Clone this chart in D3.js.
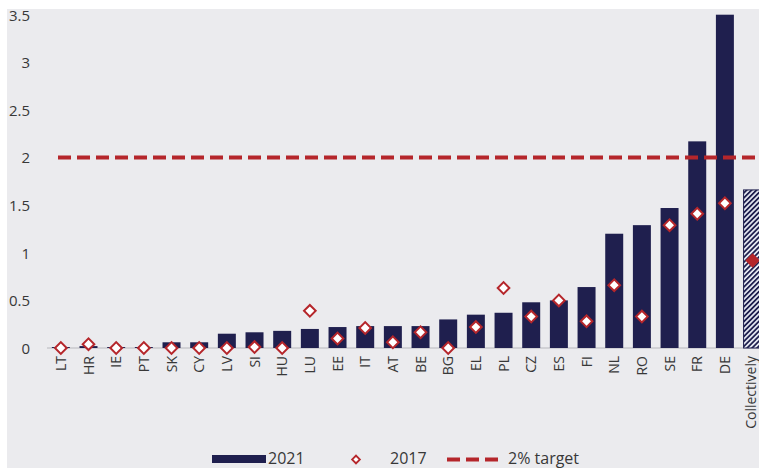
<!DOCTYPE html>
<html><head><meta charset="utf-8">
<script src="https://cdn.jsdelivr.net/npm/d3@7"></script>
<style>html,body{margin:0;padding:0;background:#fff;overflow:hidden}</style>
</head><body>
<svg id="c" width="759" height="468"></svg>
<script>
const categories = ["LT","HR","IE","PT","SK","CY","LV","SI","HU","LU","EE","IT","AT","BE","BG","EL","PL","CZ","ES","FI","NL","RO","SE","FR","DE","Collectively"];
const values2021 = [0.01,0.02,0.01,0.01,0.06,0.06,0.15,0.165,0.18,0.2,0.22,0.23,0.23,0.23,0.3,0.35,0.37,0.48,0.5,0.64,1.2,1.29,1.47,2.17,3.5,1.66];
const values2017 = [0,0.04,0,0,0,0,0,0.01,0,0.39,0.1,0.21,0.06,0.165,0,0.22,0.63,0.33,0.5,0.28,0.66,0.33,1.29,1.41,1.52,0.92];
const target = 2;
const yTicks = [0,0.5,1,1.5,2,2.5,3,3.5];
const legendLabels = ["2021","2017","2% target"];

const navy = "#1f1f4e", red = "#b5262b", font = "'Open Sans', 'Noto Sans', sans-serif";
const svg = d3.select("#c");
svg.append("rect").attr("x",7).attr("y",9).attr("width",752).attr("height",459).attr("fill","#ebebee");

const defs = svg.append("defs");
const pat = defs.append("pattern").attr("id","hatch").attr("patternUnits","userSpaceOnUse")
  .attr("width",3.5).attr("height",3.5).attr("patternTransform","rotate(45)");
pat.append("rect").attr("width",3.5).attr("height",3.5).attr("fill","#e8ebf4");
pat.append("rect").attr("width",1.8).attr("height",3.5).attr("fill",navy);

const x = d3.scaleBand().domain(categories).range([47, 766.4]).paddingInner(0.35).paddingOuter(0.175);
const y = d3.scaleLinear().domain([0,3.5]).range([348, 14.7]);

// y axis labels
const yAxis = d3.axisLeft(y).tickValues(yTicks).tickSize(0).tickPadding(0).tickFormat(d=>String(d));
const ya = svg.append("g").attr("transform","translate(30,0)").call(yAxis);
ya.select(".domain").remove();
ya.selectAll("text").attr("font-family",font).attr("font-size",15).attr("fill","#383838").attr("dy","0.36em");

// baseline
svg.append("line").attr("x1",47).attr("x2",759).attr("y1",y(0)).attr("y2",y(0)).attr("stroke","#b8b8bc").attr("stroke-width",1.2);

// bars
svg.append("g").selectAll("rect").data(categories).join("rect")
  .attr("x",d=>x(d)).attr("width",x.bandwidth())
  .attr("y",(d,i)=>y(values2021[i])).attr("height",(d,i)=>y(0)-y(values2021[i]))
  .attr("fill",d=>d==="Collectively"?"url(#hatch)":navy)
  .attr("stroke",d=>d==="Collectively"?navy:"none").attr("stroke-width",1);

// target line
svg.append("line").attr("x1",58).attr("x2",759).attr("y1",y(target)).attr("y2",y(target))
  .attr("stroke",red).attr("stroke-width",4).attr("stroke-dasharray","13,6");

// diamonds
svg.append("g").selectAll("path").data(categories).join("path")
  .attr("d",d3.symbol().type(d3.symbolSquare).size(68))
  .attr("transform",(d,i)=>`translate(${x(d)+x.bandwidth()/2},${y(values2017[i])}) rotate(45)`)
  .attr("fill",d=>d==="Collectively"?red:"#fff").attr("stroke",red).attr("stroke-width",2);

// x labels
const xa = svg.append("g").attr("transform",`translate(0,${y(0)})`)
  .call(d3.axisBottom(x).tickSize(0).tickPadding(0));
xa.select(".domain").remove();
xa.selectAll("text").attr("font-family",font).attr("font-size",14).attr("fill","#383838")
  .attr("transform","rotate(-90)").attr("text-anchor","end").attr("x",-8)
  .attr("y",d=>d==="Collectively"?-1.5:0).attr("dy","0.36em");

// legend
const lg = svg.append("g").attr("font-family",font).attr("font-size",16).attr("fill","#383838");
lg.append("rect").attr("x",212).attr("y",455).attr("width",54).attr("height",8).attr("fill",navy);
lg.append("text").attr("x",268).attr("y",463.5).text(legendLabels[0]);
lg.append("path").attr("d",d3.symbol().type(d3.symbolSquare).size(30)).attr("transform","translate(356,459.5) rotate(45)")
  .attr("fill","#fff").attr("stroke",red).attr("stroke-width",1.8);
lg.append("text").attr("x",390).attr("y",463.5).text(legendLabels[1]);
lg.append("line").attr("x1",447).attr("x2",503).attr("y1",459.5).attr("y2",459.5).attr("stroke",red).attr("stroke-width",4).attr("stroke-dasharray","13,6");
lg.append("text").attr("x",508).attr("y",463.5).text(legendLabels[2]);
</script>
</body></html>
